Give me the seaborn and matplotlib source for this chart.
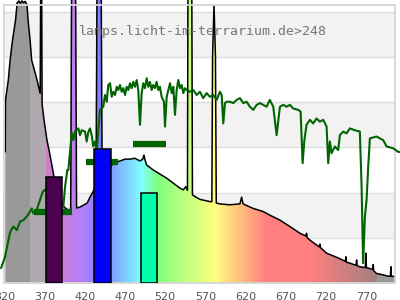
import numpy as np
import matplotlib
matplotlib.use("Agg")
import matplotlib.pyplot as plt
import seaborn as sns

# ---------------- data ----------------
title_text = "lamps.licht-im-terrarium.de>248"
xtick_values = [320, 370, 420, 470, 520, 570, 620, 670, 720, 770]

# lamp spectrum (black outline, coloured fill)
lamp_wl = [321.2, 321.5, 325.0, 327.2, 330.3, 334.0, 336.0, 338.0, 340.0, 342.0,
           344.0, 346.0, 348.3, 349.5, 352.0, 354.0, 360.7, 363.5, 364.6, 365.2,
           366.4, 367.0, 369.4, 373.0, 375.6, 381.8, 386.0, 392.0, 397.0, 402.5,
           403.6, 408.6, 409.8, 414.0, 423.0, 426.5, 430.0, 434.0, 435.2, 440.4,
           441.6, 446.0, 452.6, 458.0, 463.8, 470.0, 476.2, 482.0, 488.6, 492.0,
           493.6, 494.6, 496.9, 505.1, 513.4, 521.7, 529.9, 538.2, 542.4, 545.5,
           547.6, 548.2, 553.0, 553.8, 558.0, 563.1, 575.6, 577.9, 578.8, 580.6,
           582.4, 583.4, 588.0, 600.4, 612.8, 614.9, 616.5, 619.0, 629.3, 641.8,
           650.1, 662.5, 674.9, 687.3, 694.8, 695.6, 696.4, 699.7, 708.1, 711.5,
           712.2, 713.0, 720.5, 732.9, 743.8, 744.5, 745.2, 749.4, 755.6, 757.1,
           757.8, 758.5, 761.8, 768.6, 769.3, 770.0, 772.2, 777.7, 778.4, 779.1,
           782.6, 790.8, 797.0, 799.8, 800.4, 801.0, 802.5, 805.3]
lamp_val = [2.9, 4.05, 4.49, 4.93, 5.38, 5.82, 6.2, 6.24, 6.19, 6.24,
            6.2, 6.23, 6.15, 5.82, 5.38, 4.93, 4.49, 4.27, 4.2, 6.6,
            6.6, 3.95, 3.6, 3.16, 2.94, 2.35, 2.0, 1.72, 1.64, 1.6,
            6.6, 6.6, 1.66, 1.68, 1.77, 1.9, 2.01, 2.15, 6.6, 6.6,
            2.35, 2.5, 2.6, 2.66, 2.7, 2.74, 2.74, 2.76, 2.7, 2.74,
            2.83, 2.74, 2.61, 2.5, 2.41, 2.32, 2.21, 2.1, 2.06, 2.13,
            2.05, 6.6, 6.6, 1.95, 1.9, 1.85, 1.8, 1.8, 5.0, 6.15,
            5.0, 1.77, 1.75, 1.73, 1.75, 1.9, 1.76, 1.73, 1.65, 1.58,
            1.5, 1.39, 1.25, 1.1, 1.04, 1.1, 1.0, 0.95, 0.84, 0.8,
            0.86, 0.78, 0.66, 0.57, 0.48, 0.58, 0.46, 0.44, 0.4, 0.4,
            0.51, 0.38, 0.36, 0.34, 0.66, 0.34, 0.33, 0.3, 0.41, 0.27,
            0.21, 0.18, 0.15, 0.15, 0.36, 0.15, 0.15, 0.14]

# reference (sun) spectrum, green line
sun_wl = [316.0, 320.9, 327.3, 331.2, 335.5, 339.6, 343.7, 347.9, 352.0, 354.1,
          356.1, 360.3, 364.4, 367.8, 370.6, 375.0, 380.0, 385.0, 390.0, 393.3,
          395.5, 398.3, 399.6, 403.8, 405.8, 407.9, 412.0, 414.1, 416.2, 420.3,
          422.4, 424.4, 426.5, 428.6, 430.6, 432.7, 434.8, 436.8, 438.9, 443.0,
          445.1, 447.3, 449.2, 451.4, 453.5, 455.5, 457.6, 459.7, 461.7, 463.8,
          465.9, 467.9, 470.0, 472.1, 474.1, 476.2, 478.3, 480.3, 482.4, 484.5,
          486.5, 488.6, 490.7, 492.7, 494.8, 496.9, 498.9, 501.0, 503.1, 505.1,
          507.2, 509.3, 511.3, 513.4, 515.5, 518.4, 519.7, 521.8, 523.8, 525.9,
          528.0, 530.0, 532.1, 534.2, 536.2, 538.3, 540.4, 542.4, 544.5, 546.6,
          550.7, 554.8, 559.0, 563.1, 567.2, 571.4, 575.5, 579.6, 583.9, 588.0,
          590.1, 592.1, 594.2, 596.3, 600.4, 604.5, 608.7, 612.8, 616.9, 621.1,
          625.2, 629.3, 633.6, 637.6, 641.7, 645.9, 650.0, 654.2, 658.4, 662.5,
          666.6, 670.8, 674.9, 679.0, 685.3, 688.2, 690.7, 692.9, 695.6, 699.7,
          703.8, 708.0, 712.1, 716.3, 720.5, 722.5, 724.6, 726.7, 730.8, 734.9,
          737.0, 741.1, 745.3, 749.4, 755.6, 761.8, 764.0, 765.9, 768.1, 770.2,
          772.2, 774.3, 782.6, 790.8, 795.1, 803.3, 809.5, 811.6]
sun_val = [0.33, 0.58, 1.13, 1.25, 1.17, 1.36, 1.39, 1.47, 1.58, 1.65,
           1.54, 1.62, 1.84, 2.02, 2.06, 2.1, 2.2, 2.0, 1.8, 1.69,
           2.13, 2.5, 2.5, 3.32, 3.16, 3.35, 3.42, 3.27, 3.38, 3.35,
           3.13, 3.34, 3.42, 3.27, 3.02, 3.13, 2.94, 3.38, 3.83, 3.9,
           4.16, 4.01, 4.38, 4.42, 4.12, 4.23, 4.16, 4.34, 4.27, 4.38,
           4.23, 4.31, 4.16, 4.34, 4.27, 4.42, 4.31, 4.45, 4.34, 4.49,
           4.27, 3.5, 4.2, 4.42, 4.31, 4.53, 4.34, 4.45, 4.27, 4.38,
           4.31, 4.45, 4.27, 4.34, 4.12, 4.01, 3.46, 4.12, 4.27, 4.42,
           4.2, 4.34, 3.72, 4.27, 4.49, 4.31, 4.38, 4.2, 4.31, 4.27,
           4.23, 4.27, 4.16, 4.23, 4.09, 4.2, 4.12, 4.16, 4.05, 4.23,
           4.16, 3.53, 3.98, 4.01, 4.01, 3.98, 4.05, 4.09, 3.98, 4.01,
           3.9, 3.83, 3.94, 3.98, 3.94, 3.9, 4.05, 3.9, 3.27, 3.9,
           3.94, 3.9, 3.94, 3.86, 3.83, 3.79, 2.65, 3.16, 3.5, 3.61,
           3.53, 3.64, 3.57, 3.61, 3.46, 2.65, 3.13, 2.87, 3.02, 2.94,
           3.27, 3.35, 3.31, 3.42, 3.38, 3.35, 2.13, 0.44, 1.47, 1.84,
           2.57, 3.2, 3.24, 3.16, 3.02, 2.98, 2.9, 2.9]

# LED bands (bars) and band averages (dashes)
bar_left = [372.0, 432.0, 490.0]
bar_right = [392.0, 452.0, 510.0]
bar_height = [2.34, 2.97, 1.98]
bar_colors = ["#4b0050", "#0000ff", "#00ffaa"]
dash_left = [357.0, 421.0, 480.0]
dash_right = [404.0, 461.0, 521.0]
dash_level = [1.57, 2.67, 3.07]

band_lows = [1, 3, 5]


def wl_color(w):
    if w < 352 or w > 782:
        return (0.6, 0.6, 0.6)
    if w < 372:
        return (0.69, 0.66, 0.69)
    w = max(w, 380.0)
    if w < 440:
        r, g, b = (440 - w) / 60.0, 0.0, 1.0
    elif w < 490:
        r, g, b = 0.0, (w - 440) / 50.0, 1.0
    elif w < 510:
        r, g, b = 0.0, 1.0, (510 - w) / 20.0
    elif w < 580:
        r, g, b = (w - 510) / 70.0, 1.0, 0.0
    elif w < 645:
        r, g, b = 1.0, (645 - w) / 65.0, 0.0
    else:
        r, g, b = 1.0, 0.0, 0.0
    if w < 420:
        f = 0.6 + 0.4 * (w - 380) / 40.0
    elif w > 700:
        f = 0.3 + 0.7 * (780 - w) / 80.0
    else:
        f = 1.0
    return tuple(0.5 + 0.5 * c * f for c in (r, g, b))


# ---------------- plot ----------------
sns.set_theme(style="white")
plt.rcParams["font.family"] = ["DejaVu Sans"]

fig = plt.figure(figsize=(4, 3), dpi=100)
ax = fig.add_axes([4.3 / 400, 17 / 300, 390.7 / 400, 278 / 300])

for lo in band_lows:
    ax.axhspan(lo, lo + 1, color="#f2f2f2", lw=0, zorder=0)

# coloured fill under the lamp spectrum
poly = ax.fill_between(lamp_wl, 0, lamp_val, facecolor="none",
                       edgecolor="none", clip_on=False)
grid_wl = np.linspace(318, 812, 989)
rgb = np.array([wl_color(w) for w in grid_wl])[None, :, :]
im = ax.imshow(rgb, extent=(318, 812, 0, 7), aspect="auto", origin="lower",
               interpolation="nearest", zorder=1)
im.set_clip_box(fig.bbox)
im.set_clip_path(poly.get_paths()[0], transform=ax.transData)

sns.lineplot(x=lamp_wl, y=lamp_val, color="black", lw=1.1,
             estimator=None, sort=False, ax=ax, zorder=2)
sns.lineplot(x=sun_wl, y=sun_val, color="#006400", lw=1.5,
             estimator=None, sort=False, ax=ax, zorder=3)
for ln in ax.lines:
    ln.set_clip_on(False)

ax.hlines(dash_level, dash_left, dash_right, colors="#006400", lw=4.5, zorder=4)

widths = [r - l for l, r in zip(bar_left, bar_right)]
ax.bar(bar_left, bar_height, width=widths, align="edge", color=bar_colors,
       edgecolor="black", linewidth=1.1, zorder=5)

ax.text(0.19, 0.903, title_text, transform=ax.transAxes,
        family="DejaVu Sans Mono", fontsize=9.5, color="#777777",
        ha="left", va="center", zorder=6)

ax.set_xlim(320, 805.5)
ax.set_ylim(0, 6.15)
ax.set_xticks(xtick_values)
ax.set_xticklabels([str(v) for v in xtick_values])
ax.set_yticks(range(0, 7))
ax.tick_params(axis="x", length=0, pad=6.5, labelsize=8, labelcolor="#555555")
ax.tick_params(axis="y", length=0, labelleft=False)
ax.grid(axis="y", color="#dddddd", lw=1.0)
ax.grid(axis="x", visible=False)
ax.set_axisbelow(True)
for sp in ax.spines.values():
    sp.set_color("#d6d6d6")
    sp.set_linewidth(1.3)
ax.set_xlabel("")
ax.set_ylabel("")

fig.savefig("out.png", dpi=100)
